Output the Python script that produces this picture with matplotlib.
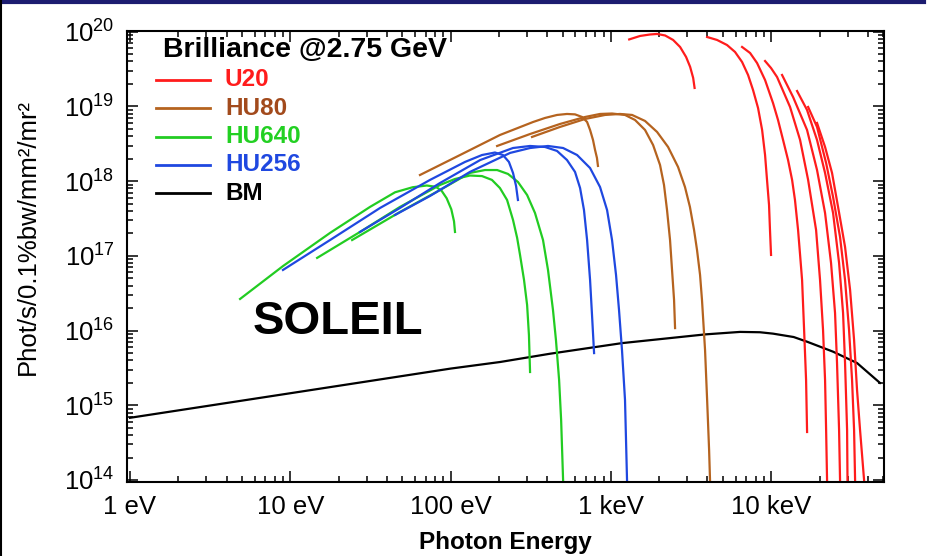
import matplotlib
matplotlib.use("Agg")
import matplotlib.pyplot as plt
from matplotlib.lines import Line2D

plt.rcParams['font.family'] = ['Liberation Sans', 'DejaVu Sans']
plt.rcParams['mathtext.fontset'] = 'custom'
plt.rcParams['mathtext.rm'] = 'Liberation Sans'
plt.rcParams['mathtext.it'] = 'Liberation Sans:italic'
plt.rcParams['mathtext.bf'] = 'Liberation Sans:bold'

# ---------------- data (photon energy in eV, brilliance) ----------------
# Bending magnet
bm_E = [1, 10, 100, 204, 417, 1175, 3890, 6390, 8500, 10260, 13800, 16720, 24300, 34290, 47700]
bm_B = [6.8e14, 1.45e15, 3.1e15, 3.8e15, 4.9e15, 6.8e15, 8.9e15, 9.6e15, 9.5e15, 9.1e15,
        8.2e15, 7.1e15, 5.22e15, 3.68e15, 1.99e15]

# U20 harmonics
u20_1_E = [1300, 1520, 1754, 1940, 2178, 2443, 2700, 2943, 3119, 3258, 3325]
u20_1_B = [7.9e19, 8.79e19, 9.2e19, 9.35e19, 8.92e19, 7.77e19, 6.26e19, 4.6e19, 3.39e19,
           2.41e19, 1.77e19]
u20_2_E = [3981, 4592, 5297, 5943, 6577, 7168, 7699, 8272, 8770, 9150, 9410, 9687, 9820, 9970]
u20_2_B = [8.51e19, 7.77e19, 6.65e19, 5.37e19, 3.94e19, 2.64e19, 1.66e19, 9.55e18, 4.85e18,
           2.24e18, 1.04e18, 4.8e17, 2.22e17, 1.03e17]
u20_3_E = [6577, 7379, 8155, 9150, 10260, 11020, 11850, 12730, 13490, 14060, 14700, 15130,
           15570, 16030, 16490, 16730]
u20_3_B = [6.26e19, 5.2e19, 3.82e19, 2.26e19, 1.11e19, 6.6e18, 3.56e18, 1.92e18, 1.04e18,
           5.6e17, 2.22e17, 1.03e17, 4.76e16, 1.02e16, 2.18e15, 4.39e14]
u20_4_E = [9150, 9970, 10870, 13100, 15130, 16980, 19040, 20150, 21040, 21660, 21990, 22290]
u20_4_B = [4.06e19, 3.27e19, 2.48e19, 9.85e18, 3.56e18, 1.04e18, 2.22e17, 4.76e16, 1.02e16,
           2.18e15, 4.67e14, 1.0e14]
u20_5_E = [11680, 13680, 16720, 19300, 21660, 23600, 25000, 25720, 26490, 26860]
u20_5_B = [2.64e19, 1.34e19, 4.85e18, 1.41e18, 3.75e17, 8.04e16, 1.72e16, 3.68e15, 4.67e14, 1.0e14]
u20_6_E = [14490, 16720, 19300, 21660, 24300, 26490, 28050, 28860, 29720, 29900]
u20_6_B = [1.61e19, 8.98e18, 3.56e18, 1.29e18, 3.75e17, 8.04e16, 1.72e16, 3.68e15, 4.67e14, 1.0e14]
u20_7_E = [16980, 19300, 21990, 24300, 26860, 28860, 30570, 31920, 32860, 33340]
u20_7_B = [9.85e18, 5.32e18, 1.75e18, 6.14e17, 1.79e17, 4.76e16, 1.02e16, 2.18e15, 4.67e14, 1.0e14]
u20_8_E = [19300, 21660, 23940, 26110, 28860, 31030, 32860, 34290, 35800, 37930]
u20_8_B = [6.02e18, 2.87e18, 1.29e18, 4.52e17, 1.32e17, 3.50e16, 7.48e15, 1.60e15, 4.67e14, 1.0e14]

# HU80 harmonics
hu80_1_E = [64.4, 114.5, 203, 327, 388, 461, 532, 597, 661, 710, 741, 773, 796, 818, 830]
hu80_1_B = [1.21e18, 2.24e18, 4.15e18, 6.2e18, 7.02e18, 7.7e18, 7.94e18, 7.84e18, 7.23e18,
            6.2e18, 4.85e18, 3.56e18, 2.62e18, 2.05e18, 1.60e18]
hu80_2_E = [195, 313, 481, 689, 855, 1016, 1224, 1413, 1632, 1832, 2024, 2143, 2238, 2337,
            2405, 2476, 2512]
hu80_2_B = [2.96e18, 4.28e18, 5.83e18, 7.23e18, 7.94e18, 8.05e18, 7.7e18, 6.6e18, 4.85e18,
            3.05e18, 1.65e18, 8.9e17, 4.11e17, 1.63e17, 6.48e16, 2.57e16, 1.08e16]
hu80_3_E = [322, 481, 689, 919, 1140, 1355, 1632, 1940, 2272, 2622, 2896, 3110, 3300, 3443,
            3597, 3698, 3864, 3981, 4096, 4150]
hu80_3_B = [3.91e18, 5.32e18, 6.8e18, 7.7e18, 7.94e18, 7.7e18, 6.4e18, 4.56e18, 2.87e18,
            1.55e18, 8.36e17, 4.52e17, 2.22e17, 1.2e17, 5.55e16, 2.57e16, 5.5e15, 1.18e15,
            2.52e14, 1.0e14]

# HU640 harmonics
hu640_1_E = [4.86, 9.0, 17.7, 31.4, 45.0, 58.0, 71.0, 81.0, 88.0, 94.5, 101, 105, 106.5]
hu640_1_B = [2.65e16, 7.3e16, 2.03e17, 4.52e17, 7.1e17, 8.3e17, 8.75e17, 8.4e17, 7.4e17,
             5.9e17, 4.2e17, 2.9e17, 2.09e17]
hu640_2_E = [14.7, 27.2, 48.3, 85.9, 106.5, 132, 157, 181, 203, 225, 245, 260, 271, 287, 300,
             308, 313]
hu640_2_B = [9.4e16, 2.09e17, 4.52e17, 8.9e17, 1.07e18, 1.19e18, 1.17e18, 1.04e18, 8.1e17,
             5.6e17, 3.03e17, 1.74e17, 1.03e17, 4.76e16, 2.2e16, 8.7e15, 2.79e15]
hu640_3_E = [24.3, 48.3, 85.9, 132, 164, 195, 228, 263, 300, 336, 377, 405, 435, 454, 475,
             489, 503]
hu640_3_B = [1.63e17, 3.87e17, 7.62e17, 1.29e18, 1.41e18, 1.41e18, 1.25e18, 9.76e17, 6.53e17,
             3.75e17, 1.63e17, 6.48e16, 1.89e16, 7.48e15, 2.18e15, 6.36e14, 1.0e14]

# HU256 harmonics
hu256_1_E = [9.0, 17.7, 36.3, 74.4, 123, 157, 189, 212, 231, 245, 256, 263]
hu256_1_B = [6.48e16, 1.63e17, 4.38e17, 1.04e18, 1.81e18, 2.24e18, 2.42e18, 2.24e18, 1.81e18,
             1.29e18, 8.63e17, 5.6e17]
hu256_2_E = [27.2, 48.3, 85.9, 153, 245, 313, 388, 461, 532, 597, 642, 679, 710, 741, 762, 785]
hu256_2_B = [2.09e17, 4.38e17, 9.46e17, 1.92e18, 2.78e18, 2.96e18, 2.87e18, 2.54e18, 1.92e18,
             1.33e18, 8.1e17, 4.11e17, 1.63e17, 4.76e16, 1.62e16, 5.0e15]
hu256_3_E = [45.0, 74.4, 132, 235, 313, 405, 503, 615, 741, 855, 946, 1016, 1076, 1123, 1172,
             1224, 1260]
hu256_3_B = [3.53e17, 6.34e17, 1.33e18, 2.39e18, 2.78e18, 2.96e18, 2.78e18, 2.24e18, 1.50e18,
             8.36e17, 4.11e17, 1.63e17, 5.55e16, 1.89e16, 5.5e15, 1.18e15, 1.0e14]

series_names = ['U20', 'HU80', 'HU640', 'HU256', 'BM']
x_tick_values = [1, 10, 100, 1000, 10000]
x_tick_labels = ['1 eV', '10 eV', '100 eV', '1 keV', '10 keV']
y_tick_exponents = [14, 15, 16, 17, 18, 19, 20]

# ---------------- styles ----------------
c_red = '#ff1c1c'
c_brown = '#b5631f'
c_green = '#22cc22'
c_blue = '#1f48e0'
c_black = '#000000'
text_colors = {'U20': '#ff1c1c', 'HU80': '#a24a1c', 'HU640': '#22d022',
               'HU256': '#1f48e0', 'BM': '#000000'}
line_colors = {'U20': c_red, 'HU80': c_brown, 'HU640': c_green, 'HU256': c_blue, 'BM': c_black}

W, H = 932, 556
fig = plt.figure(figsize=(W / 100, H / 100), dpi=100)
fig.patch.set_facecolor('white')

ax_l, ax_r, ax_t, ax_b = 127, 884, 30.5, 482
ax = fig.add_axes([ax_l / W, 1 - ax_b / H, (ax_r - ax_l) / W, (ax_b - ax_t) / H])
ax.set_xscale('log')
ax.set_yscale('log')
ax.set_xlim(0.958, 5.05e4)
ax.set_ylim(9.4e13, 1.04e20)

lw = 1.6
ax.plot(bm_E, bm_B, color=c_black, lw=lw, solid_joinstyle='round')
for E, B in [(u20_1_E, u20_1_B), (u20_2_E, u20_2_B), (u20_3_E, u20_3_B), (u20_4_E, u20_4_B),
             (u20_5_E, u20_5_B), (u20_6_E, u20_6_B), (u20_7_E, u20_7_B), (u20_8_E, u20_8_B)]:
    ax.plot(E, B, color=c_red, lw=lw, solid_joinstyle='round')
for E, B in [(hu80_1_E, hu80_1_B), (hu80_2_E, hu80_2_B), (hu80_3_E, hu80_3_B)]:
    ax.plot(E, B, color=c_brown, lw=lw, solid_joinstyle='round')
for E, B in [(hu640_1_E, hu640_1_B), (hu640_2_E, hu640_2_B), (hu640_3_E, hu640_3_B)]:
    ax.plot(E, B, color=c_green, lw=lw, solid_joinstyle='round')
for E, B in [(hu256_1_E, hu256_1_B), (hu256_2_E, hu256_2_B), (hu256_3_E, hu256_3_B)]:
    ax.plot(E, B, color=c_blue, lw=lw, solid_joinstyle='round')

# ticks
ax.set_xticks(x_tick_values)
ax.set_xticklabels(x_tick_labels)
ax.set_yticks([10.0 ** e for e in y_tick_exponents])
ax.set_yticklabels([r'$10^{%d}$' % e for e in y_tick_exponents])
ax.tick_params(which='both', direction='in', top=True, right=True, width=1.1, color='black')
ax.tick_params(which='major', length=8, pad=9, labelsize=18.5)
ax.tick_params(which='minor', length=4.5)
for s in ax.spines.values():
    s.set_linewidth(1.5)

# axis titles
fig.text(505 / W, 1 - 543 / H, 'Photon Energy', ha='center', va='center',
         fontsize=17.5, fontweight='bold')
fig.text(28 / W, 1 - 237 / H, 'Phot/s/0.1%bw/mm\u00b2/mr\u00b2', ha='center', va='center',
         rotation=90, fontsize=18.5)

# annotation
fig.text(338 / W, 1 - 322 / H, 'SOLEIL', ha='center', va='center', fontsize=34,
         fontweight='bold')

# legend (manual)
fig.text(163 / W, 1 - 50 / H, 'Brilliance @2.75 GeV', ha='left', va='center',
         fontsize=20.5, fontweight='bold')
for i, name in enumerate(series_names):
    y = 80 + 28.3 * i
    fig.add_artist(Line2D([156 / W, 210 / W], [1 - y / H, 1 - y / H],
                          color=line_colors[name], lw=2))
    fig.text(225 / W, 1 - y / H, name, ha='left', va='center', fontsize=17.5,
             fontweight='bold', color=text_colors[name])

# slide frame
fig.add_artist(Line2D([0, 924 / W], [1 - 1.5 / H, 1 - 1.5 / H], color='#1c1c70', lw=3))
fig.add_artist(Line2D([1 / W, 1 / W], [0, 1], color='black', lw=1.5))

fig.savefig('out.png', dpi=100, facecolor='white')
